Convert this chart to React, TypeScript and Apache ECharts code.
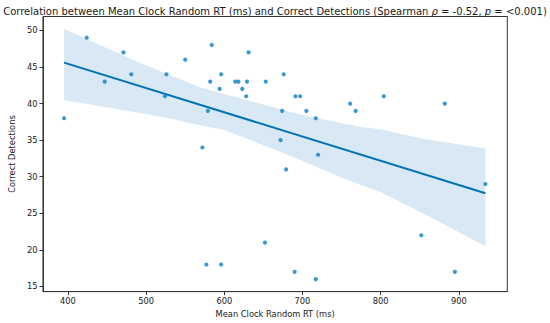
import React, { useEffect, useRef } from "react";
import * as echarts from "echarts";

// Scatter data: Mean Clock Random RT (ms) vs Correct Detections
const rtValues = [395, 424, 447, 471, 481, 524, 526, 550, 572, 577, 579, 582, 584, 594, 596, 596, 614, 618, 623, 628, 629, 631, 652, 653, 672, 674, 676, 679, 690, 691, 697, 705, 717, 717, 720, 761, 768, 804, 852, 882, 895, 934];
const detections = [38, 49, 43, 47, 44, 41, 44, 46, 34, 18, 39, 43, 48, 42, 44, 18, 43, 43, 42, 41, 43, 47, 21, 43, 35, 39, 44, 31, 17, 41, 41, 39, 38, 16, 33, 40, 39, 41, 22, 40, 17, 29];

// Regression line
const fitX = [395, 934];
const fitY = [45.6, 27.75];

// Confidence band
const bandX = [395, 450, 489, 523, 570, 600, 650, 693, 752, 774, 800, 854, 934];
const bandUpper = [50.24, 47.57, 45.68, 44.22, 42.2, 41.32, 39.86, 38.6, 37.29, 36.8, 36.5, 35.2, 33.85];
const bandLower = [40.49, 39.48, 38.77, 38.14, 37.0, 36.4, 34.3, 32.5, 29.8, 28.9, 27.9, 25.0, 20.5];

const xTicks = [400, 500, 600, 700, 800, 900];
const yTicks = [15, 20, 25, 30, 35, 40, 45, 50];

const FONT = "DejaVu Sans";
const TXT = "#1a1a1a";

export default function App() {
  const ref = useRef<HTMLDivElement>(null);
  useEffect(() => {
    if (!ref.current) return;
    const chart = echarts.init(ref.current, undefined, { renderer: "svg" });
    const bandData = bandX.map((x, i) => [x, bandLower[i], bandUpper[i]]);
    chart.setOption({
      animation: false,
      backgroundColor: "#ffffff",
      title: {
        text: "{n|Correlation between Mean Clock Random RT (ms) and Correct Detections (Spearman }{i|ρ}{n| = -0.52, }{i|p}{n| = <0.001)}",
        left: "center",
        top: 1,
        textStyle: {
          fontFamily: FONT,
          fontSize: 10,
          fontWeight: "normal",
          color: TXT,
          rich: {
            n: { fontFamily: FONT, fontSize: 10, color: TXT },
            i: { fontFamily: FONT, fontSize: 10, color: TXT, fontStyle: "italic" },
          },
        },
      },
      grid: {
        left: 41.7,
        right: 42.7,
        top: 16.5,
        bottom: 28,
        show: true,
        borderColor: "#333",
        borderWidth: 1,
        backgroundColor: "transparent",
      },
      xAxis: {
        type: "value",
        min: 368,
        max: 962,
        name: "Mean Clock Random RT (ms)",
        nameLocation: "middle",
        nameGap: 17.5,
        nameTextStyle: { fontFamily: FONT, fontSize: 8.3, color: TXT },
        axisLine: { show: true, lineStyle: { color: "#333", width: 1 } },
        axisTick: { show: true, inside: false, length: 3.5, lineStyle: { color: "#333" }, customValues: xTicks },
        axisLabel: { fontFamily: FONT, fontSize: 8.3, color: TXT, margin: 5.5, customValues: xTicks },
        splitLine: { show: false },
      },
      yAxis: {
        type: "value",
        min: 14.3,
        max: 51.9,
        name: "Correct Detections",
        nameLocation: "middle",
        nameGap: 21,
        nameRotate: 90,
        nameTextStyle: { fontFamily: FONT, fontSize: 8.3, color: TXT },
        axisLine: { show: true, lineStyle: { color: "#333", width: 1 } },
        axisTick: { show: true, inside: false, length: 3.5, lineStyle: { color: "#333" }, customValues: yTicks },
        axisLabel: { fontFamily: FONT, fontSize: 8.3, color: TXT, margin: 5.5, customValues: yTicks },
        splitLine: { show: false },
      },
      series: [
        {
          type: "custom",
          z: 1,
          silent: true,
          data: bandData,
          encode: { x: 0, y: [1, 2] },
          renderItem: (params: any, api: any) => {
            if (params.dataIndex !== 0) return null;
            const up = bandData.map((d) => api.coord([d[0], d[2]]));
            const lo = bandData.map((d) => api.coord([d[0], d[1]])).reverse();
            return {
              type: "polygon",
              shape: { points: up.concat(lo) },
              style: { fill: "#d8e8f4", stroke: "none" },
            };
          },
        },
        {
          type: "line",
          z: 3,
          data: fitX.map((x, i) => [x, fitY[i]]),
          showSymbol: false,
          symbol: "none",
          lineStyle: { color: "#0173b2", width: 2 },
        },
        {
          type: "scatter",
          z: 4,
          data: rtValues.map((x, i) => [x, detections[i]]),
          symbolSize: 4.2,
          itemStyle: { color: "#0a80c4" },
        },
      ],
    });
    return () => chart.dispose();
  }, []);
  return <div ref={ref} style={{ position: "fixed", left: 0, top: 0, width: 550, height: 323 }} />;
}
